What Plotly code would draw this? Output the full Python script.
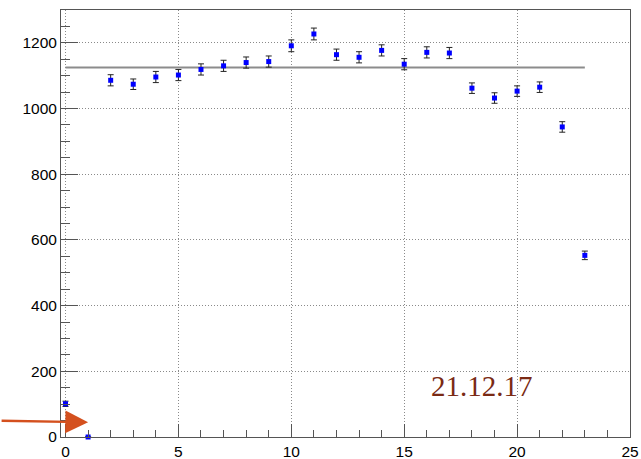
import plotly.graph_objects as go

# Measured counts per channel with their uncertainties
channel = list(range(0, 24))
counts = [101, 0, 1086, 1074, 1096, 1102, 1119, 1130, 1140, 1143, 1191, 1227,
          1164, 1156, 1177, 1135, 1171, 1169, 1062, 1032, 1053, 1065, 944, 553]
errors = [8, 0, 17, 16, 17, 17, 17, 17, 17, 17, 18, 18,
          17, 17, 17, 17, 17, 17, 16, 16, 16, 16, 16, 13]

# Constant fit over the channel range
fit_x = [0, 23]
fit_level = 1125

date_label = "21.12.17"

fig = go.Figure()

fig.add_trace(go.Scatter(
    x=fit_x, y=[fit_level] * len(fit_x), mode="lines",
    line=dict(color="#8c8c8c", width=2), showlegend=False, hoverinfo="skip",
))

fig.add_trace(go.Scatter(
    x=channel, y=counts, mode="markers",
    marker=dict(symbol="square", size=5, color="#0000ff", line=dict(width=0)),
    error_y=dict(type="data", array=errors, visible=True, color="#222222",
                 thickness=1, width=3),
    showlegend=False, cliponaxis=False,
))

axis_common = dict(
    showline=True, linecolor="#555555", linewidth=1, mirror=True,
    showgrid=True, gridcolor="#8a8a8a", griddash="1px,2px", gridwidth=1,
    zeroline=False, ticks="inside", tickcolor="#555555", automargin=False,
    tickfont=dict(family="Liberation Sans, Arial, sans-serif", size=15.5, color="#000000"),
)

fig.update_xaxes(
    range=[-0.2, 25], dtick=5, tick0=0, ticklen=13, tickwidth=1,
    minor=dict(dtick=1, ticklen=7, tickcolor="#555555", showgrid=False, ticks="inside"),
    **axis_common,
)
fig.update_yaxes(
    range=[0, 1300], dtick=200, tick0=0, ticklen=17, tickwidth=1,
    minor=dict(dtick=50, ticklen=9, tickcolor="#555555", showgrid=False, ticks="inside"),
    **axis_common,
)

fig.add_annotation(
    x=18.45, y=155, xref="x", yref="y", text=date_label, showarrow=False,
    font=dict(family="Liberation Serif, DejaVu Serif, serif", size=29, color="#7a2a14"),
)

fig.add_annotation(
    x=1.0, y=45, xref="x", yref="y", ax=-88, ay=-1.5, axref="pixel", ayref="pixel",
    text="", showarrow=True, arrowhead=2, arrowsize=1.9, arrowwidth=2.4,
    arrowcolor="#d4501e",
)

fig.update_layout(
    width=641, height=459,
    margin=dict(l=61, r=11, t=10, b=22),
    paper_bgcolor="#ffffff", plot_bgcolor="#ffffff",
)

fig.write_html("out.html")
